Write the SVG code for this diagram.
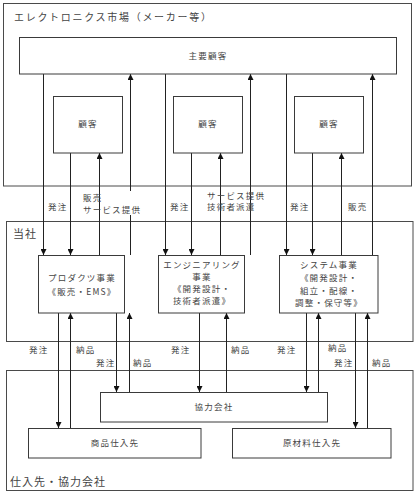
<svg xmlns="http://www.w3.org/2000/svg" width="417" height="494" viewBox="0 0 417 494">
<defs>
<style>
.box{fill:#fff;stroke:#3a3a3a;stroke-width:1}
.frame{fill:none;stroke:#4a4a4a;stroke-width:1}
.t{font-family:"Noto Sans CJK JP","Noto Sans",sans-serif;font-size:8.5px;fill:#444;letter-spacing:1.2px}
.tc{text-anchor:middle}
.big{font-size:10px;letter-spacing:1.7px}
.big2{font-size:11px;letter-spacing:1px}
.ln{stroke:#222;stroke-width:1;fill:none;marker-end:url(#ah)}
.bg{fill:#fff}
</style>
<marker id="ah" viewBox="0 0 6 6" refX="6" refY="3" markerWidth="6" markerHeight="6" markerUnits="userSpaceOnUse" orient="auto">
<path d="M0,0 L6,3 L0,6 z" fill="#111"/>
</marker>
</defs>
<rect width="417" height="494" fill="#fff"/>

<g id="market">
<rect class="frame" x="3.5" y="3.5" width="408" height="182.5"/>
<text class="t big" x="14" y="21">エレクトロニクス市場（メーカー等）</text>
</g>
<g id="company">
<rect class="frame" x="6.5" y="221.5" width="406.5" height="120"/>
<text class="t big2" x="13" y="238">当社</text>
</g>
<g id="suppliers">
<rect class="frame" x="6.5" y="370.5" width="406.5" height="120"/>
<text class="t big2" x="10" y="486">仕入先・協力会社</text>
</g>

<g id="connectors">
<line class="ln" x1="43.5" y1="74" x2="43.5" y2="255"/>
<line class="ln" x1="130.5" y1="255" x2="130.5" y2="74"/>
<line class="ln" x1="70.5" y1="153" x2="70.5" y2="255"/>
<line class="ln" x1="99.5" y1="255" x2="99.5" y2="153"/>
<line class="ln" x1="165.5" y1="74" x2="165.5" y2="255"/>
<line class="ln" x1="250.5" y1="255" x2="250.5" y2="74"/>
<line class="ln" x1="191.5" y1="153" x2="191.5" y2="255"/>
<line class="ln" x1="220.5" y1="255" x2="220.5" y2="153"/>
<line class="ln" x1="286.5" y1="74" x2="286.5" y2="255"/>
<line class="ln" x1="372.5" y1="255" x2="372.5" y2="74"/>
<line class="ln" x1="312.5" y1="153" x2="312.5" y2="255"/>
<line class="ln" x1="341.5" y1="255" x2="341.5" y2="153"/>

<line class="ln" x1="58.5" y1="313" x2="58.5" y2="428"/>
<line class="ln" x1="70.5" y1="428" x2="70.5" y2="313"/>
<line class="ln" x1="116.5" y1="313" x2="116.5" y2="392"/>
<line class="ln" x1="129.5" y1="392" x2="129.5" y2="313"/>
<line class="ln" x1="199.5" y1="313" x2="199.5" y2="392"/>
<line class="ln" x1="226.5" y1="392" x2="226.5" y2="313"/>
<line class="ln" x1="306.5" y1="313" x2="306.5" y2="392"/>
<line class="ln" x1="318.5" y1="392" x2="318.5" y2="313"/>
<line class="ln" x1="355.5" y1="313" x2="355.5" y2="428"/>
<line class="ln" x1="367.5" y1="428" x2="367.5" y2="313"/>
</g>

<g id="labels">
<text class="t" x="48" y="210">発注</text>
<rect class="bg" x="124" y="191" width="15" height="24"/>
<text class="t" x="83" y="201">販売</text>
<text class="t" x="83" y="213">サービス提供</text>
<text class="t" x="170" y="210">発注</text>
<text class="t" x="207" y="199">サービス提供</text>
<text class="t" x="207" y="210">技術者派遣</text>
<text class="t" x="290" y="210">発注</text>
<text class="t" x="348" y="210">販売</text>

<text class="t" x="29" y="353">発注</text>
<text class="t" x="76" y="353">納品</text>
<text class="t" x="96" y="366">発注</text>
<text class="t" x="133" y="366">納品</text>
<text class="t" x="171" y="353">発注</text>
<text class="t" x="231" y="353">納品</text>
<text class="t" x="277" y="353">発注</text>
<text class="t" x="328" y="351">納品</text>
<text class="t" x="334" y="366">発注</text>
<text class="t" x="372" y="366">納品</text>
</g>

<g id="main-customer">
<rect class="box" x="19.5" y="37.5" width="377" height="36.5"/>
<text class="t tc" x="208" y="59">主要顧客</text>
</g>
<g id="customer1">
<rect class="box" x="53.5" y="96.5" width="69" height="56.5"/>
<text class="t tc" x="88" y="127">顧客</text>
</g>
<g id="customer2">
<rect class="box" x="173.5" y="96.5" width="69" height="56.5"/>
<text class="t tc" x="208" y="127">顧客</text>
</g>
<g id="customer3">
<rect class="box" x="294.5" y="96.5" width="69" height="56.5"/>
<text class="t tc" x="329" y="127">顧客</text>
</g>

<g id="product">
<rect class="box" x="38.5" y="255.5" width="86" height="57.5"/>
<text class="t tc" x="82" y="281">プロダクツ事業</text>
<text class="t tc" x="82" y="295">《販売・EMS》</text>
</g>
<g id="engineering">
<rect class="box" x="158.5" y="255.5" width="86" height="57.5"/>
<text class="t tc" x="202" y="268">エンジニアリング</text>
<text class="t tc" x="202" y="280">事業</text>
<text class="t tc" x="202" y="292">《開発設計・</text>
<text class="t tc" x="202" y="304">技術者派遣》</text>
</g>
<g id="system">
<rect class="box" x="279.5" y="255.5" width="98.5" height="57.5"/>
<text class="t tc" x="329" y="268">システム事業</text>
<text class="t tc" x="329" y="281">《開発設計・</text>
<text class="t tc" x="329" y="294">組立・配線・</text>
<text class="t tc" x="329" y="306">調整・保守等》</text>
</g>

<g id="partner">
<rect class="box" x="100.5" y="392.5" width="227" height="29.5"/>
<text class="t tc" x="214" y="410">協力会社</text>
</g>
<g id="goods-supplier">
<rect class="box" x="28.5" y="428.5" width="172.5" height="29.5"/>
<text class="t tc" x="115" y="446">商品仕入先</text>
</g>
<g id="material-supplier">
<rect class="box" x="232.5" y="428.5" width="158.5" height="29.5"/>
<text class="t tc" x="312" y="446">原材料仕入先</text>
</g>
</svg>
